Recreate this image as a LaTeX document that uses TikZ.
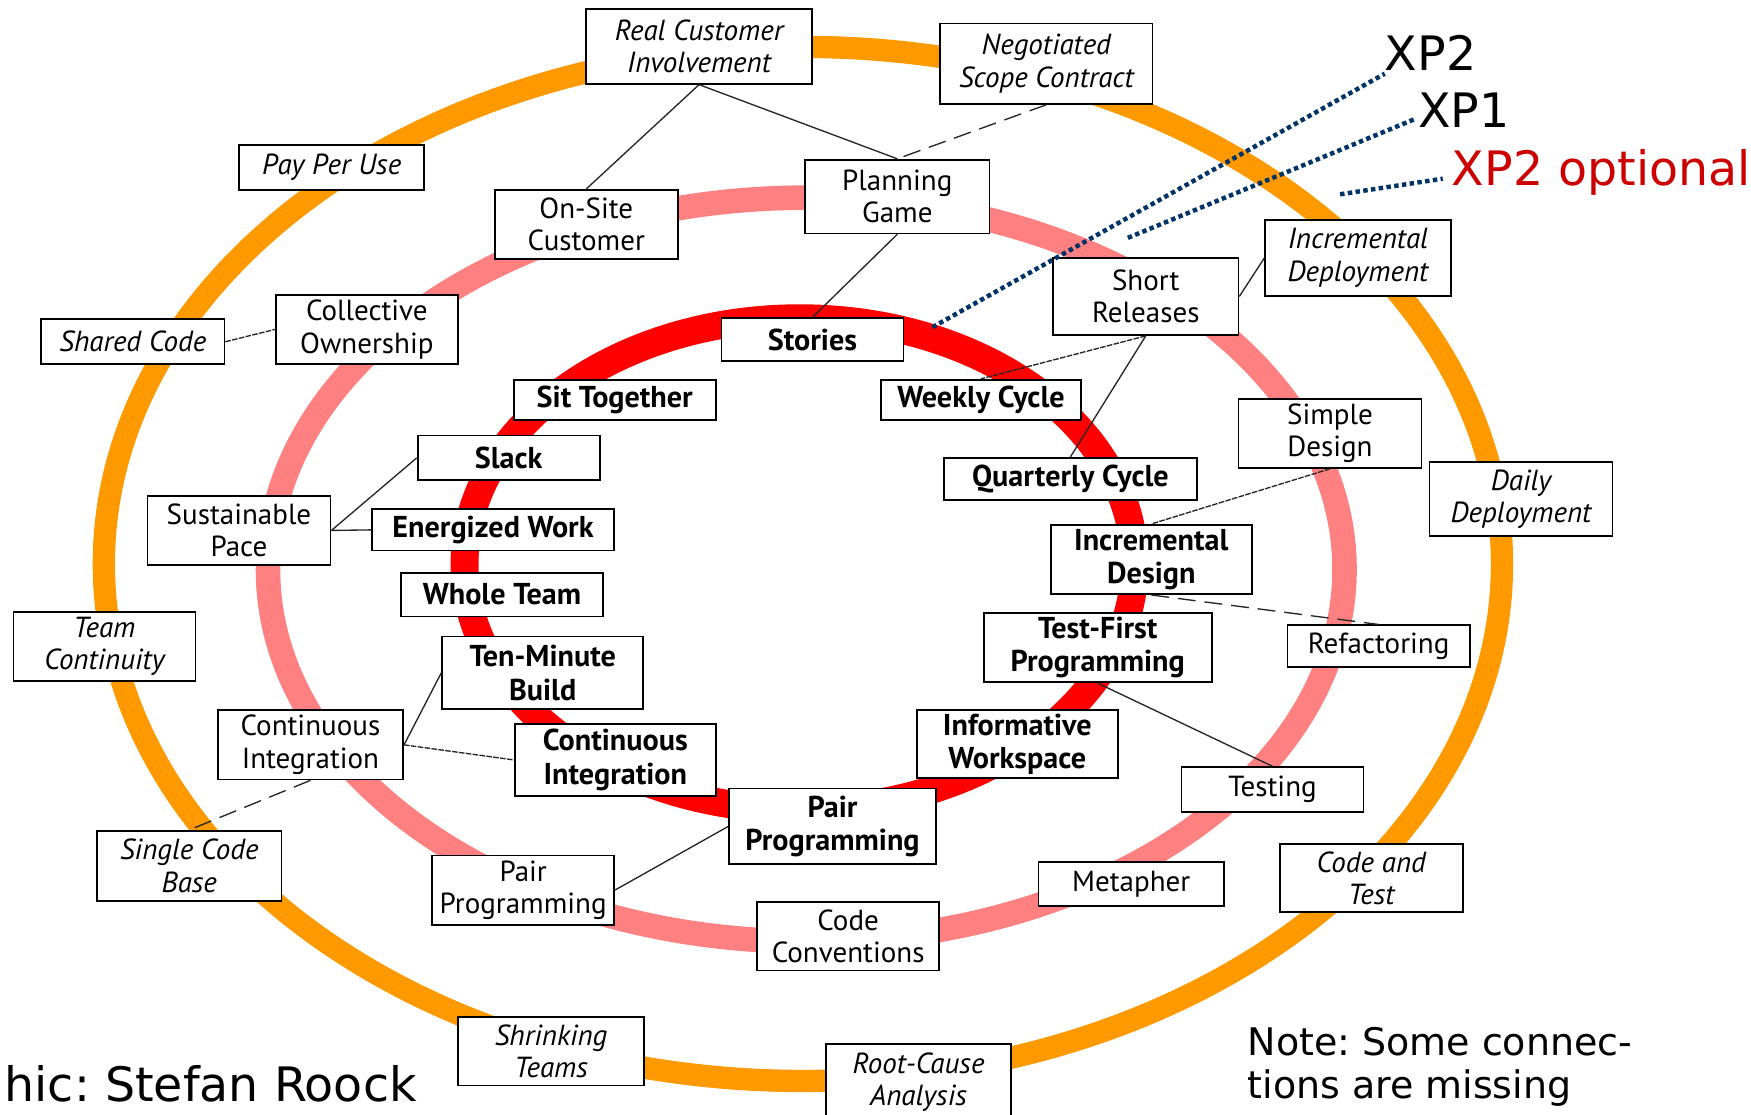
\documentclass[tikz,border=0pt]{standalone}
\usepackage{fontspec}
\newfontfamily\boxfont{PT Sans}
\newfontfamily\slidefont{DejaVu Sans}
\definecolor{ringorange}{HTML}{FF9900}
\definecolor{ringpink}{HTML}{FF8080}
\definecolor{ringred}{HTML}{FF0000}
\definecolor{navyline}{HTML}{003366}
\definecolor{optred}{HTML}{CC0000}
\frenchspacing
\begin{document}
\begin{tikzpicture}[x=1pt,y=-1pt,
  bx/.style={draw=black, line width=1.6pt, fill=white, inner sep=0pt, align=center},
  outerbx/.style={bx, font={\boxfont\itshape\fontsize{26}{29}\selectfont}},
  midbx/.style={bx, font={\boxfont\fontsize{26}{29}\selectfont}},
  innerbx/.style={bx, font={\boxfont\bfseries\fontsize{27}{30}\selectfont}},
  conn/.style={line width=1.2pt, black!85},
  fineline/.style={conn, dash pattern=on 5pt off 1.2pt},
  longdash/.style={conn, dash pattern=on 16pt off 8pt},
  xpline/.style={navyline, line width=4pt, dash pattern=on 4pt off 3pt},
  slidetext/.style={inner sep=0pt, anchor=base west, font={\slidefont\fontsize{42.5}{50}\selectfont}},
]
\fill[white] (0,0) rectangle (1568,998);
\useasboundingbox (0,0) rectangle (1568,998);

% rings
\draw[ringorange, line width=20pt] (719,505) ellipse [x radius=626, y radius=463];
\draw[ringpink, line width=22pt] (722,510) ellipse [x radius=482, y radius=333];
\draw[ringred, line width=25pt] (716,505) ellipse [x radius=300, y radius=220];

% outer practices
\node[outerbx, minimum width=202, minimum height=67] (rci) at (626,41.5) {Real Customer\\Involvement};
\node[outerbx, minimum width=190, minimum height=72] (nsc) at (937,57) {Negotiated\\Scope Contract};
\node[outerbx, minimum width=166, minimum height=40] (ppu) at (297,150) {Pay Per Use};
\node[outerbx, minimum width=164, minimum height=40] (shc) at (119,306) {Shared Code};
\node[outerbx, minimum width=166, minimum height=68] (idp) at (1216,231) {Incremental\\Deployment};
\node[outerbx, minimum width=164, minimum height=66] (ddp) at (1362,447) {Daily\\Deployment};
\node[outerbx, minimum width=163, minimum height=62] (tcn) at (93.5,579) {Team\\Continuity};
\node[outerbx, minimum width=165, minimum height=63] (scb) at (169.5,775.5) {Single Code\\Base};
\node[outerbx, minimum width=164, minimum height=61] (cat) at (1228,786.5) {Code and\\Test};
\node[outerbx, minimum width=167, minimum height=61] (sht) at (493.5,941.5) {Shrinking\\Teams};
\node[outerbx, minimum width=165, minimum height=68] (rca) at (822.5,969) {Root-Cause\\Analysis};

% middle practices
\node[midbx, minimum width=164, minimum height=62] (osc) at (525,201) {On-Site\\Customer};
\node[midbx, minimum width=165, minimum height=66] (pgm) at (803.5,176) {Planning\\Game};
\node[midbx, minimum width=163, minimum height=62] (cow) at (328.5,295) {Collective\\Ownership};
\node[midbx, minimum width=166, minimum height=69] (srl) at (1026,265.5) {Short\\Releases};
\node[midbx, minimum width=164, minimum height=62] (sdn) at (1191,388) {Simple\\Design};
\node[midbx, minimum width=164, minimum height=62] (spc) at (214,475) {Sustainable\\Pace};
\node[midbx, minimum width=163, minimum height=37] (rfc) at (1234.5,578.5) {Refactoring};
\node[midbx, minimum width=166, minimum height=62] (cir) at (278,667) {Continuous\\Integration};
\node[midbx, minimum width=163, minimum height=40] (tst) at (1139.5,707) {Testing};
\node[midbx, minimum width=163, minimum height=62] (ppr) at (468.5,797) {Pair\\Programming};
\node[midbx, minimum width=166, minimum height=39] (mtp) at (1013,791.5) {Metapher};
\node[midbx, minimum width=163, minimum height=61] (ccv) at (759.5,838.5) {Code\\Conventions};

% inner practices
\node[innerbx, minimum width=163, minimum height=38] (sto) at (727.5,304) {Stories};
\node[innerbx, minimum width=181, minimum height=36] (sit) at (550.5,358) {Sit Together};
\node[innerbx, minimum width=179, minimum height=36] (wkc) at (878.5,358) {Weekly Cycle};
\node[innerbx, minimum width=163, minimum height=40] (slk) at (455.5,410) {Slack};
\node[innerbx, minimum width=227, minimum height=38] (qcy) at (958.5,429) {Quarterly Cycle};
\node[innerbx, minimum width=217, minimum height=37] (enw) at (441.5,474.5) {Energized Work};
\node[innerbx, minimum width=180, minimum height=62] (ids) at (1031,501) {Incremental\\Design};
\node[innerbx, minimum width=181, minimum height=39] (wht) at (449.5,532.5) {Whole Team};
\node[innerbx, minimum width=204, minimum height=62] (tfp) at (983,580) {Test-First\\Programming};
\node[innerbx, minimum width=180, minimum height=65] (tmb) at (486,602.5) {Ten-Minute\\Build};
\node[innerbx, minimum width=180, minimum height=65] (cib) at (551,680.5) {Continuous\\Integration};
\node[innerbx, minimum width=180, minimum height=61] (iws) at (911,666.5) {Informative\\Workspace};
\node[innerbx, minimum width=185, minimum height=68] (ppb) at (745.5,740) {Pair\\Programming};

% connectors
\draw[conn] (rci.south) -- (osc.north);
\draw[conn] (rci.south) -- (pgm.north);
\draw[longdash] (nsc.south) -- (pgm.north);
\draw[conn] (pgm.south) -- (sto.north);
\draw[fineline] (shc.east) -- (cow.west);
\draw[fineline] (srl.south) -- (wkc.north);
\draw[conn] (srl.south) -- (qcy.north);
\draw[conn] (srl.east) -- (idp.west);
\draw[conn] (spc.east) -- (slk.west);
\draw[conn] (spc.east) -- (enw.west);
\draw[fineline] (sdn.south) -- (ids.north);
\draw[longdash] (ids.south) -- (rfc.north);
\draw[conn] (tfp.south) -- (tst.north);
\draw[conn] (cir.east) -- (tmb.west);
\draw[fineline] (cir.east) -- (cib.west);
\draw[longdash] (cir.south) -- (scb.north);
\draw[conn] (ppr.east) -- (ppb.west);

% labels
\node[slidetext] (xp2) at (1240,63) {XP2};
\node[slidetext] (xp1) at (1270,114) {XP1};
\node[slidetext, text=optred] (xpo) at (1300,166) {XP2 optional};
\node[inner sep=0pt, anchor=base west, align=left, font={\slidefont\fontsize{34}{39}\selectfont}] (note) at (1117,984) {Note: Some connec-\\tions are missing};
\node[slidetext, text depth=0pt] (credit) at (4,986) {hic: Stefan Roock};

\coordinate (xp2end) at (835,293);
\coordinate (xp1end) at (1010,213);
\coordinate (xpoend) at (1200,174);
\draw[xpline] (xp2end) -- ([yshift=-3pt]xp2.base west);
\draw[xpline] (xp1end) -- ([xshift=-4pt,yshift=7pt]xp1.base west);
\draw[xpline] (xpoend) -- ([xshift=-8pt,yshift=6pt]xpo.base west);
\end{tikzpicture}
\end{document}
